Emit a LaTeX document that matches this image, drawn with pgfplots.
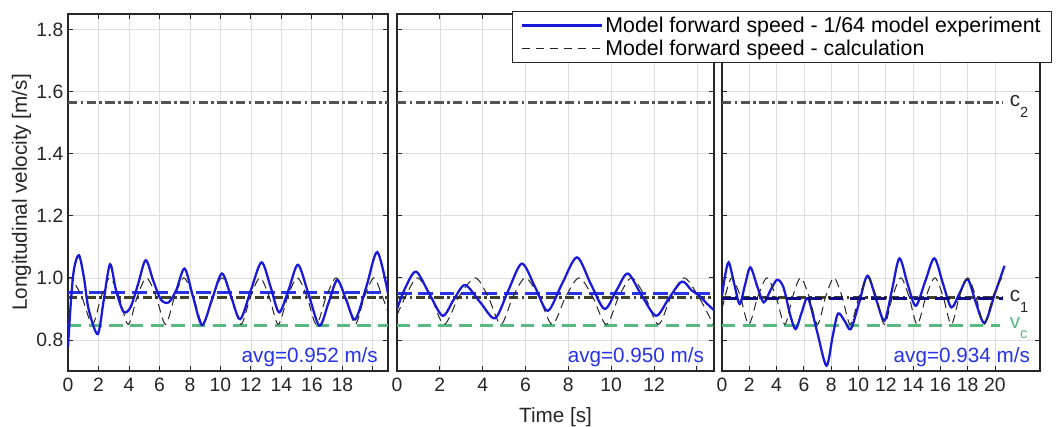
\documentclass[border=0pt]{standalone}
\usepackage{fontspec}
\setmainfont{Liberation Sans}
\usepackage{pgfplots}
\pgfplotsset{compat=1.18}
\definecolor{curveblue}{rgb}{0.1,0.1,0.85}
\definecolor{avgblue}{rgb}{0.15,0.2,0.9}
\definecolor{avgnavy}{rgb}{0.05,0.05,0.5}
\definecolor{cgray}{rgb}{0.33,0.33,0.33}
\definecolor{cone}{rgb}{0.25,0.25,0.15}
\definecolor{vcgreen}{rgb}{0.35,0.72,0.5}
\definecolor{axgray}{rgb}{0.15,0.15,0.15}
\newcommand{\sub}[1]{\raisebox{-8pt}{\fontsize{11}{12}\selectfont #1}}
\pgfplotsset{
  panel/.style={
    scale only axis,
    height=267.75pt,
    anchor=south west,
    ymin=0.7, ymax=1.85,
    ytick={0.8,1.0,...,1.8},
    grid=major,
    major grid style={gray!27, line width=0.5pt},
    axis line style={axgray, line width=0.8pt},
    tick style={axgray, line width=0.6pt},
    tick align=inside,
    major tick length=3.5pt,
    clip mode=individual,
    tick label style={font=\fontsize{14.5}{16}\selectfont, text=axgray},
    label style={font=\fontsize{15.5}{18}\selectfont, text=axgray},
    yticklabel style={/pgf/number format/.cd, fixed, fixed zerofill, precision=1, assume math mode=true},
    xticklabel style={yshift=-2pt, /pgf/number format/assume math mode=true},
  },
  blueline/.style={curveblue, line width=1.7pt, smooth, no markers},
  calcline/.style={black!85, line width=0.75pt, dash pattern=on 6.5pt off 4pt, smooth, no markers},
  ctwo/.style={cgray, line width=1.6pt, dash pattern=on 7pt off 2.5pt on 2pt off 2.5pt, forget plot},
  cline/.style={cone, line width=1.6pt, dash pattern=on 7pt off 2.5pt on 2pt off 2.5pt, forget plot},
  vcline/.style={vcgreen, line width=1.7pt, dash pattern=on 10pt off 5.5pt, forget plot},
  avgline/.style={avgblue, line width=2.2pt, dash pattern=on 11pt off 5pt, forget plot},
}
\pgfplotstableread{
t v
0.00 0.776
0.20 0.930
0.40 1.030
0.72 1.073
1.05 1.000
1.35 0.900
1.95 0.819
2.35 0.930
2.76 1.044
3.15 0.960
3.64 0.891
4.10 0.905
4.60 0.980
5.10 1.057
5.60 0.990
6.10 0.930
6.60 0.921
7.10 0.960
7.65 1.030
8.20 0.940
8.80 0.848
9.45 0.930
10.10 1.014
10.70 0.940
11.30 0.867
12.00 0.960
12.70 1.050
13.30 0.970
13.86 0.889
14.50 0.965
15.10 1.042
15.80 0.945
16.50 0.846
17.10 0.920
17.67 0.993
18.25 0.930
18.85 0.866
19.60 0.975
20.30 1.083
21.00 0.950
}\expA
\pgfplotstableread{
t v
0.00 0.990
0.20 1.000
0.90 0.940
1.60 0.850
2.18 0.940
2.75 1.000
3.35 0.940
3.95 0.850
4.55 0.940
5.15 1.000
5.78 0.940
6.40 0.850
7.00 0.940
7.60 1.000
8.22 0.940
8.85 0.850
9.48 0.940
10.10 1.000
10.72 0.940
11.35 0.850
11.98 0.940
12.60 1.000
13.20 0.940
13.80 0.850
14.42 0.940
15.05 1.000
15.68 0.940
16.30 0.850
16.95 0.940
17.60 1.000
18.22 0.940
18.85 0.850
19.46 0.940
20.07 1.000
20.55 0.950
21.00 0.890
}\calcA
\pgfplotstableread{
t v
0.00 0.900
0.40 0.970
0.89 1.020
1.50 0.950
2.13 0.878
2.65 0.930
3.18 0.977
3.90 0.920
4.58 0.870
5.20 0.960
5.83 1.046
6.45 0.970
7.04 0.894
7.70 0.980
8.40 1.066
9.05 0.980
9.69 0.900
10.25 0.960
10.78 1.014
11.45 0.940
12.10 0.878
12.70 0.935
13.30 0.988
13.75 0.960
14.10 0.943
14.50 0.915
14.83 0.894
}\expB
\pgfplotstableread{
t v
0.00 0.880
0.40 0.940
0.95 1.000
1.58 0.940
2.20 0.850
2.90 0.940
3.65 1.000
4.25 0.940
4.85 0.850
5.42 0.940
6.00 1.000
6.62 0.940
7.25 0.850
7.88 0.940
8.50 1.000
9.13 0.940
9.77 0.850
10.36 0.940
10.95 1.000
11.58 0.940
12.20 0.850
12.80 0.940
13.40 1.000
14.08 0.940
14.77 0.850
14.80 0.851
}\calcB
\pgfplotstableread{
t v
0.00 0.943
0.20 1.000
0.49 1.050
0.90 0.980
1.30 0.916
1.70 0.980
2.08 1.034
2.60 0.970
3.06 0.921
3.55 0.960
4.04 0.994
4.50 0.970
5.00 0.880
5.40 0.835
5.85 0.890
6.30 0.935
6.95 0.830
7.65 0.717
8.10 0.810
8.50 0.885
9.00 0.860
9.44 0.835
10.05 0.920
10.66 1.007
11.30 0.930
11.90 0.862
12.45 0.960
13.00 1.063
13.60 0.980
14.20 0.910
14.90 0.990
15.56 1.063
16.20 0.980
16.80 0.905
17.40 0.950
18.00 0.996
18.60 0.920
19.24 0.855
20.00 0.950
20.70 1.039
}\expC
\pgfplotstableread{
t v
0.00 0.900
0.35 0.960
0.74 1.000
1.35 0.940
1.96 0.850
2.63 0.940
3.30 1.000
3.95 0.940
4.60 0.850
5.18 0.940
5.76 1.000
6.38 0.940
7.00 0.850
7.60 0.940
8.20 1.000
8.80 0.940
9.40 0.850
10.05 0.940
10.70 1.000
11.30 0.940
11.90 0.850
12.50 0.940
13.10 1.000
13.70 0.940
14.30 0.850
14.95 0.940
15.60 1.000
16.20 0.940
16.80 0.850
17.40 0.940
18.00 1.000
18.60 0.940
19.20 0.850
19.85 0.940
20.50 1.000
20.70 0.990
}\calcC
\begin{document}
\begin{tikzpicture}
\useasboundingbox (0,0) rectangle (793.5pt,-319.5pt);
% Panel 1
\begin{axis}[panel, at={(51pt,-278.25pt)}, width=240pt,
  xmin=0, xmax=21,
  xtick={0,2,...,20}, xticklabels={0,2,4,6,8,10,12,14,16,18,{}},
  ylabel={Longitudinal velocity [m/s]},
  ylabel style={at={(axis description cs:-0.145,0.5)}, anchor=center},
]
\addplot[ctwo] coordinates {(0,1.565) (21,1.565)};
\addplot[vcline] coordinates {(0,0.847) (21,0.847)};
\addplot[cline] coordinates {(0,0.937) (21,0.937)};
\addplot[avgline] coordinates {(0,0.952) (21,0.952)};
\addplot[calcline, forget plot] table[x=t,y=v] {\calcA};
\addplot[blueline, forget plot] table[x=t,y=v] {\expA};
\node[anchor=east, text=avgblue, font=\fontsize{15.5}{18}\selectfont] at (rel axis cs:0.983,0.04) {avg=0.952 m/s};
\end{axis}
% Panel 2
\begin{axis}[panel, at={(297.75pt,-278.25pt)}, width=237.75pt,
  xmin=0, xmax=14.8,
  xtick={0,2,...,14}, xticklabels={0,2,4,6,8,10,12,{}},
  yticklabels={},
  xlabel={Time [s]},
  xlabel style={at={(axis description cs:0.5,-0.128)}, anchor=center},
]
\addplot[ctwo] coordinates {(0,1.565) (14.8,1.565)};
\addplot[vcline] coordinates {(0,0.847) (14.8,0.847)};
\addplot[cline] coordinates {(0,0.937) (14.8,0.937)};
\addplot[avgline] coordinates {(0,0.950) (14.8,0.950)};
\addplot[calcline, forget plot] table[x=t,y=v] {\calcB};
\addplot[blueline, forget plot] table[x=t,y=v] {\expB};
\node[anchor=east, text=avgblue, font=\fontsize{15.5}{18}\selectfont] at (rel axis cs:0.983,0.04) {avg=0.950 m/s};
\end{axis}
% Panel 3
\begin{axis}[panel, at={(541.5pt,-278.25pt)}, width=238.5pt,
  xmin=0, xmax=23.3,
  xtick={0,2,...,20},
  yticklabels={},
  legend style={at={(-0.6604,1.0084)}, anchor=north west, draw=axgray, line width=0.8pt, fill=white,
    font=\fontsize{16}{18}\selectfont, inner xsep=6pt, inner ysep=2pt, row sep=0pt,
    cells={anchor=west}, text=black},
  legend cell align=left,
  legend image code/.code={\draw[#1] (0pt,0pt) -- (60pt,0pt);},
]
\addplot[ctwo] coordinates {(0,1.565) (20.6,1.565)};
\addplot[vcline] coordinates {(0,0.847) (20.4,0.847)};
\addplot[cline] coordinates {(0,0.937) (20.6,0.937)};
\addplot[blueline] table[x=t,y=v] {\expC};
\addlegendentry{Model forward speed - 1/64 model experiment}
\addplot[calcline] table[x=t,y=v] {\calcC};
\addlegendentry{Model forward speed - calculation}
\addplot[avgline, avgnavy, line width=2.3pt] coordinates {(0,0.934) (20.6,0.934)};
\node[anchor=east, text=avgblue, font=\fontsize{15.5}{18}\selectfont] at (rel axis cs:0.983,0.04) {avg=0.934 m/s};
\node[anchor=base west, font=\fontsize{15.5}{18}\selectfont, text=axgray, yshift=-3pt] at (axis cs:20.75,1.565) {c\sub{2}};
\node[anchor=base west, font=\fontsize{15.5}{18}\selectfont, text=axgray, yshift=-3pt] at (axis cs:20.75,0.937) {c\sub{1}};
\node[anchor=base west, font=\fontsize{15.5}{18}\selectfont, text=vcgreen, yshift=-2pt] at (axis cs:20.75,0.847) {v\sub{c}};
\end{axis}
\end{tikzpicture}
\end{document}
